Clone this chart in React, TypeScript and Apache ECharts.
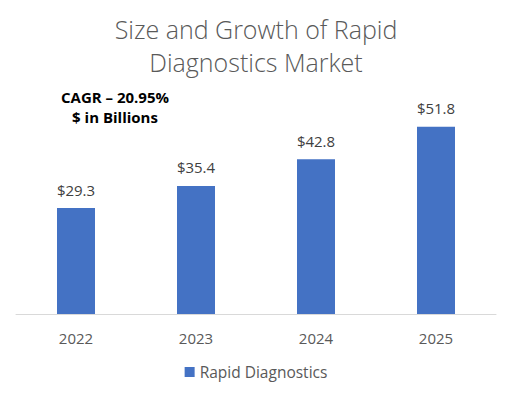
import React, { useEffect, useRef } from "react";
import * as echarts from "echarts";

const categories = ["2022", "2023", "2024", "2025"];
const values = [29.3, 35.4, 42.8, 51.8];
const seriesName = "Rapid Diagnostics";
const titleLines = ["Size and Growth of Rapid", "Diagnostics Market"];
const noteLines = ["CAGR – 20.95%", "$ in Billions"];

export default function App() {
  const ref = useRef<HTMLDivElement>(null);
  useEffect(() => {
    if (!ref.current) return;
    const chart = echarts.init(ref.current, null, { renderer: "svg" });
    chart.setOption({
      animation: false,
      backgroundColor: "#ffffff",
      title: {
        text: titleLines.join("\n"),
        left: "center",
        top: 7,
        textStyle: {
          fontFamily: "Open Sans",
          fontWeight: 300,
          fontSize: 25,
          color: "#595959",
          lineHeight: 33,
        },
      },
      graphic: noteLines.map((t, i) => ({
        type: "text",
        x: 115,
        y: 97 + i * 20,
        style: {
          text: t,
          fontFamily: "Open Sans",
          fontWeight: "bold",
          fontSize: 15,
          fill: "#000000",
          align: "center",
          verticalAlign: "middle",
        },
      })),
      legend: {
        bottom: 12,
        left: "center",
        itemWidth: 10,
        itemHeight: 10,
        icon: "rect",
        textStyle: { fontFamily: "Open Sans", fontSize: 15.5, color: "#595959" },
        data: [seriesName],
      },
      grid: { left: 16, right: 16, top: 97, bottom: 83 },
      xAxis: {
        type: "category",
        data: categories,
        axisLine: { lineStyle: { color: "#d9d9d9", width: 1 } },
        axisTick: { show: false },
        axisLabel: { fontFamily: "Open Sans", fontSize: 15, color: "#595959", margin: 16 },
      },
      yAxis: {
        type: "value",
        min: 0,
        max: 60,
        show: false,
        splitLine: { show: false },
      },
      series: [
        {
          name: seriesName,
          type: "bar",
          data: values,
          barWidth: 38,
          itemStyle: { color: "#4472C4" },
          label: {
            show: true,
            position: "top",
            distance: 11,
            formatter: (p: any) => "$" + p.value.toFixed(1),
            fontFamily: "Open Sans",
            fontSize: 15,
            color: "#404040",
          },
        },
      ],
    });
    return () => chart.dispose();
  }, []);
  return <div ref={ref} style={{ width: 512, height: 397, margin: -8 }} />;
}
